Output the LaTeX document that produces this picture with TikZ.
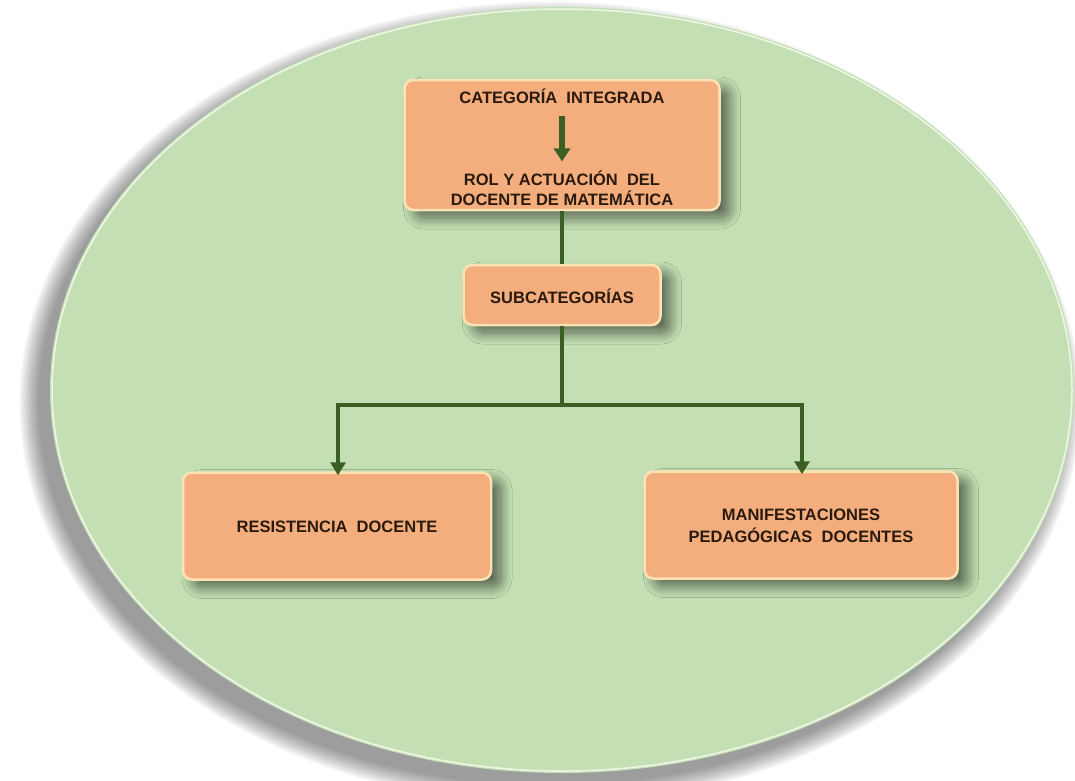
\documentclass[tikz,border=0pt]{standalone}
\usepackage{fontspec}
\setmainfont{Liberation Sans}
\usetikzlibrary{arrows.meta,shadows.blur,positioning}
\definecolor{oval}{HTML}{C3DFB3}
\definecolor{ovalrim}{HTML}{EEF7E6}
\definecolor{boxfill}{HTML}{F4AE7E}
\definecolor{boxrim}{HTML}{FDE3B4}
\definecolor{linkgreen}{HTML}{3B5E22}
\definecolor{ink}{HTML}{2A1A0E}
\tikzset{
  catbox/.style={rectangle, rounded corners=9pt, fill=boxfill, draw=boxrim,
    line width=2.5pt, inner sep=0pt,
    blur shadow={shadow xshift=10pt, shadow yshift=-8pt, shadow blur steps=12,
      shadow blur radius=11pt, shadow opacity=55}},
  label/.style={font=\bfseries\fontsize{16.5}{20}\selectfont, text=ink, align=center, inner sep=0pt},
  link/.style={draw=linkgreen, line width=4.5pt},
  linkarrow/.style={link, -{Triangle[width=15pt,length=13pt]}, shorten >=-1pt}
}
\begin{document}
\begin{tikzpicture}[x=1pt,y=-1pt]
\useasboundingbox (0,0) rectangle (1075,780);
% background oval with its soft grey shadow
\foreach \k in {1,...,12}{
  \fill[black, opacity=0.04] (550,403) ellipse[x radius={510+\k*1.7}, y radius={381+\k*1.7}];
}
\fill[oval] (562,390) ellipse[x radius=512, y radius=383];
\draw[ovalrim, line width=1.5pt] (562,390) ellipse[x radius=510, y radius=381];

% boxes
\node[catbox, minimum width=315pt, minimum height=130pt] (top) at (562,145) {};
\node[catbox, minimum width=197pt, minimum height=60pt] (sub) at (562,295) {};
\node[catbox, minimum width=308pt, minimum height=107pt] (left) at (337,526) {};
\node[catbox, minimum width=313pt, minimum height=107pt] (right) at (801,525) {};

% texts
\node[label] (cat) at (562,96) {CATEGORÍA\ \ INTEGRADA};
\node[label] (rol) at (562,188) {ROL Y ACTUACIÓN\ \ DEL\\DOCENTE DE MATEMÁTICA};
\node[label] (subt) at (562,296) {SUBCATEGORÍAS};
\node[label] (res) at (337,527) {RESISTENCIA\ \ DOCENTE};
\node[label, font=\bfseries\fontsize{16.5}{22}\selectfont] (man) at (801,526) {MANIFESTACIONES\\PEDAGÓGICAS\ \ DOCENTES};

% connectors
\coordinate (split) at (562,405);
\draw[link, line width=6pt, -{Triangle[width=16pt,length=13pt]}] ([yshift=-12pt]cat.south) -- ([yshift=9pt]rol.north);
\draw[link] (top.south) -- (sub.north);
\draw[link] (sub.south) -- (split);
\draw[linkarrow] (split) -| ([xshift=1pt,yshift=-3pt]left.north);
\draw[linkarrow] (split) -| ([xshift=1pt,yshift=-3pt]right.north);
\end{tikzpicture}
\end{document}
